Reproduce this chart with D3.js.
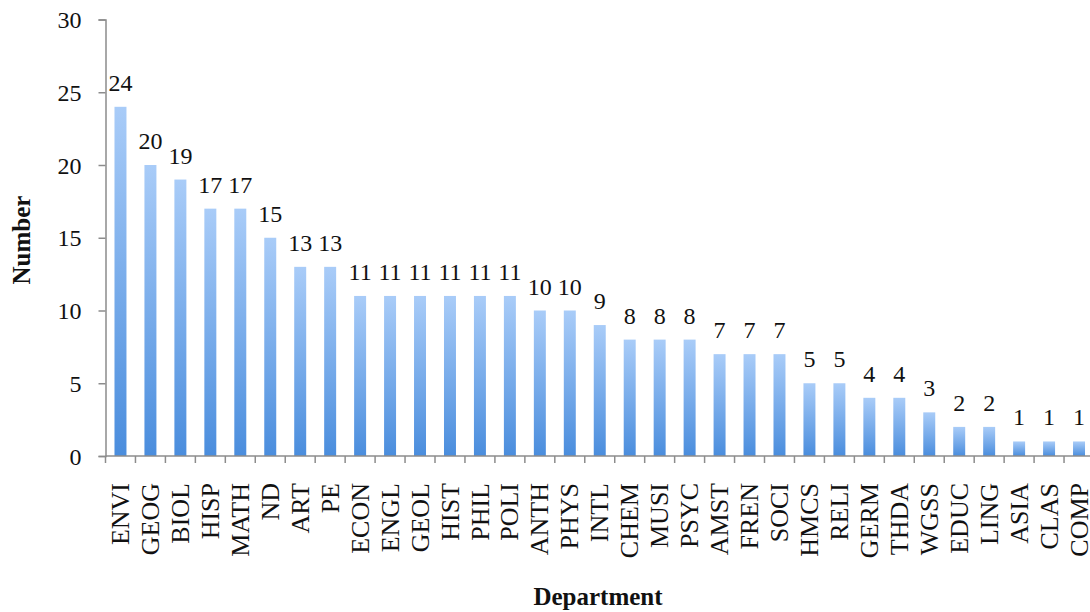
<!DOCTYPE html>
<html>
<head>
<meta charset="utf-8">
<script src="https://cdn.jsdelivr.net/npm/d3@7"></script>
<style>
  html, body { margin: 0; padding: 0; background: #fff; }
  svg { display: block; }
</style>
</head>
<body>
<svg id="chart" width="1090" height="612"></svg>
<script>
// Department counts
const departments = ["ENVI","GEOG","BIOL","HISP","MATH","ND","ART","PE","ECON","ENGL","GEOL","HIST","PHIL","POLI","ANTH","PHYS","INTL","CHEM","MUSI","PSYC","AMST","FREN","SOCI","HMCS","RELI","GERM","THDA","WGSS","EDUC","LING","ASIA","CLAS","COMP"];
const counts = [24,20,19,17,17,15,13,13,11,11,11,11,11,11,10,10,9,8,8,8,7,7,7,5,5,4,4,3,2,2,1,1,1];
const yTicks = [0,5,10,15,20,25,30];

const serif = "'Liberation Serif', 'Times New Roman', Times, serif";
const svg = d3.select("#chart").attr("font-family", serif);
const axisColor = "#8c8c8c";

const x = d3.scaleBand().domain(departments).range([105.5, 1094]).paddingInner(0.6).paddingOuter(0.3);
const y = d3.scaleLinear().domain([0, 30]).range([456, 19.5]);

// bar fill: light at the top, deeper blue at the base
const grad = svg.append("defs").append("linearGradient")
  .attr("id", "barFill").attr("x1", 0).attr("y1", 0).attr("x2", 0).attr("y2", 1);
grad.append("stop").attr("offset", "0%").attr("stop-color", "#a9ccf8");
grad.append("stop").attr("offset", "100%").attr("stop-color", "#4a8ddd");

// bars
svg.append("g").selectAll("rect")
  .data(departments)
  .join("rect")
  .attr("x", (d) => x(d))
  .attr("y", (d, i) => y(counts[i]))
  .attr("width", x.bandwidth())
  .attr("height", (d, i) => y(0) - y(counts[i]))
  .attr("fill", "url(#barFill)");

// value labels
svg.append("g").selectAll("text")
  .data(departments)
  .join("text")
  .attr("x", (d) => x(d) + x.bandwidth() / 2)
  .attr("y", (d, i) => y(counts[i]) - 16)
  .attr("text-anchor", "middle")
  .attr("font-family", serif)
  .attr("font-size", 24)
  .attr("fill", "#111")
  .text((d, i) => counts[i]);

// y axis
const yAxis = svg.append("g")
  .attr("transform", "translate(105.5,0)")
  .call(d3.axisLeft(y).tickValues(yTicks).tickSize(7).tickPadding(17).tickFormat(d3.format("d")))
  .attr("font-family", serif)
  .attr("font-size", 24);
yAxis.select(".domain").attr("stroke", axisColor).attr("stroke-width", 1.5);
yAxis.selectAll(".tick line").attr("stroke", axisColor).attr("stroke-width", 1.5);
yAxis.selectAll(".tick text").attr("fill", "#111").attr("dy", "0.34em");

// x axis with tick marks at band boundaries
const step = x.step();
const xAxisG = svg.append("g").attr("transform", "translate(0,456)");
xAxisG.append("line")
  .attr("x1", 105.5).attr("x2", 1094)
  .attr("stroke", axisColor).attr("stroke-width", 1.5);
xAxisG.selectAll("line.tk")
  .data(departments)
  .join("line")
  .attr("class", "tk")
  .attr("x1", (d) => x(d) + x.bandwidth() / 2 - step / 2)
  .attr("x2", (d) => x(d) + x.bandwidth() / 2 - step / 2)
  .attr("y1", 0).attr("y2", 7)
  .attr("stroke", axisColor).attr("stroke-width", 1.5);

// rotated category labels
svg.append("g").selectAll("text")
  .data(departments)
  .join("text")
  .attr("transform", (d) => `translate(${x(d) + x.bandwidth() / 2},483) rotate(-90)`)
  .attr("text-anchor", "end")
  .attr("dy", "0.33em")
  .attr("font-family", serif)
  .attr("font-size", 26)
  .attr("fill", "#111")
  .text((d) => d);

// axis titles
svg.append("text")
  .attr("transform", "translate(30,240) rotate(-90)")
  .attr("text-anchor", "middle")
  .attr("font-family", serif)
  .attr("font-size", 25).attr("font-weight", "bold")
  .attr("fill", "#111")
  .text("Number");

svg.append("text")
  .attr("x", 598).attr("y", 605)
  .attr("text-anchor", "middle")
  .attr("font-family", serif)
  .attr("font-size", 25).attr("font-weight", "bold")
  .attr("fill", "#111")
  .text("Department");
</script>
</body>
</html>
